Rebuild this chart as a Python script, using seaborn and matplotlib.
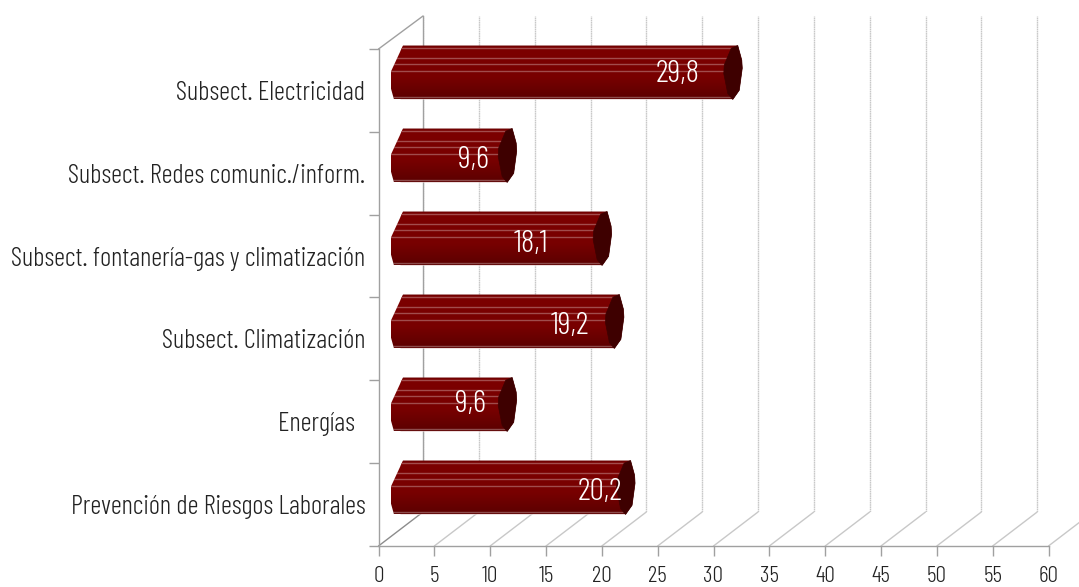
import numpy as np, pandas as pd
import seaborn as sns
import matplotlib
matplotlib.use("Agg")
import matplotlib.pyplot as plt
from matplotlib.patches import ConnectionPatch, Polygon

categorias = ["Subsect. Electricidad", "Subsect. Redes comunic./inform.",
              "Subsect. fontanería-gas y climatización", "Subsect. Climatización",
              "Energías  ", "Prevención de Riesgos Laborales"]
valores = [29.8, 9.6, 18.1, 19.2, 9.6, 20.2]
etiquetas = ["29,8", "9,6", "18,1", "19,2", "9,6", "20,2"]
ticks_x = list(range(0, 65, 5))

sns.set_theme(style="white")
plt.rcParams['font.family'] = ['Barlow Condensed', 'Roboto Condensed', 'Liberation Sans', 'DejaVu Sans']
plt.rcParams['font.weight'] = 300

W, H = 1079, 587
fig = plt.figure(figsize=(W / 100, H / 100), dpi=100)


def caja(x0, y0, x1, y1):
    # pixeles (origen arriba a la izquierda) -> fraccion de figura
    return [x0 / W, 1 - y1 / H, (x1 - x0) / W, (y1 - y0) / H]


px_x = 60 / 670
margen = 2  # hueco a la izquierda del cero para la tapa redondeada

# tres planos: pared del fondo, plano frontal y barras a media profundidad
ax_fondo = fig.add_axes(caja(423, 16, 1093, 512), zorder=0)
ax_frente = fig.add_axes(caja(378.5, 49, 1048.5, 546), zorder=2)
ax_barras = fig.add_axes(caja(400 - margen / px_x, 31, 1070, 529), zorder=3)

for ax in (ax_fondo, ax_frente, ax_barras):
    ax.set_xlim(0, 60)
    ax.patch.set_alpha(0)

ax_fondo.set_ylim(0, 1)
ax_fondo.set_xticks(ticks_x)
ax_fondo.set_yticks([])
ax_fondo.tick_params(labelbottom=False, length=0)
ax_fondo.grid(axis="x", color="#c8c8c8", lw=1, ls=(0, (1.2, 0.4)))
sns.despine(ax=ax_fondo, left=False, bottom=True, top=True, right=True)
ax_fondo.spines["left"].set_color("#a0a0a0")
ax_fondo.spines["left"].set_linewidth(1)

# eje frontal
n_cat = len(categorias)
ax_frente.set_ylim(n_cat - 0.5, -0.5)
ax_frente.set_xticks(ticks_x)
ax_frente.set_xticklabels([str(t) for t in ticks_x], fontsize=17, color="#222222")
ax_frente.set_yticks(range(n_cat))
ax_frente.set_yticklabels(categorias, fontsize=19.4, color="#222222")
ax_frente.set_yticks(np.arange(-0.5, n_cat), minor=True)
ax_frente.tick_params(axis="y", which="major", length=0, pad=9.5)
ax_frente.tick_params(axis="y", which="minor", left=True, length=7, width=1, color="#a0a0a0")
ax_frente.tick_params(axis="x", bottom=True, length=7, width=1, color="#a0a0a0", pad=7.5)
sns.despine(ax=ax_frente)
for lado in ("left", "bottom"):
    ax_frente.spines[lado].set_color("#a0a0a0")
    ax_frente.spines[lado].set_linewidth(1)

# suelo y diagonal superior
for t in ticks_x:
    c = "#8c8c8c" if t == 0 else "#c8c8c8"
    fig.add_artist(ConnectionPatch((t, n_cat - 0.5), (t, 0), "data", "data", axesA=ax_frente, axesB=ax_fondo,
                                   color=c, lw=1, zorder=1))
fig.add_artist(ConnectionPatch((0, 1), (0, 1), "axes fraction", "axes fraction", axesA=ax_frente, axesB=ax_fondo,
                               color="#a0a0a0", lw=1, zorder=1))

# barras
df = pd.DataFrame({"cat": categorias, "valor": valores})
sns.barplot(data=df, y="cat", x="valor", orient="h", color="#780000", saturation=1, width=0.65, ax=ax_barras)
ax_barras.axis("off")

# perfil de las tapas: (dx en pixeles, fraccion de la altura)
tapa_der = [(5, 0), (9, .27), (9.5, .42), (6.5, .83), (0, 1), (-5, .89), (-9, .52), (-8.5, .36), (-1.5, .05)]
lado_izq = [(-6, 1), (-9, .8), (-9, .48), (3, 0)]
vetas = [.05, .24, .34, .47, .96]
cmap = matplotlib.colors.LinearSegmentedColormap.from_list(
    "cil", [(0, "#680000"), (.04, "#7c0000"), (.6, "#780000"), (1, "#5c0000")])
despl_x = [55, 34, 71, 44, 37, 26]
despl_y = [2, 5, 5, 5, 0, 5]

for i, p in enumerate(ax_barras.patches):
    x1 = p.get_width()
    y0, h = p.get_y(), p.get_height()
    punto = lambda base, dx, f: (base + dx * px_x, y0 + f * h)
    perfil = [punto(x1, dx, f) for dx, f in tapa_der[:5]] + [punto(0, dx, f) for dx, f in lado_izq]
    silueta = Polygon(perfil, closed=True, fc="none", ec="none", transform=ax_barras.transData, clip_on=False)
    ax_barras.add_patch(silueta)
    # el rectangulo solo sirve de base, lo recorta la silueta
    p.set_clip_path(silueta)
    g = ax_barras.imshow(np.linspace(0, 1, 64)[:, None], cmap=cmap, aspect="auto", zorder=2,
                         extent=(-margen, x1 + 12 * px_x, y0 + h, y0))
    g.set_clip_path(silueta)
    for f in vetas:
        l, = ax_barras.plot([-margen, x1], [y0 + f * h] * 2, color="#ffffff", alpha=.3, lw=1, zorder=3)
        l.set_clip_path(silueta)
    ax_barras.add_patch(Polygon([punto(x1, dx, f) for dx, f in tapa_der], closed=True,
                                fc="#3e0000", ec="#3e0000", lw=.5, zorder=4))
    ax_barras.annotate(etiquetas[i], (x1, y0 + h / 2), xytext=(-despl_x[i] * .72, -despl_y[i] * .72),
                       textcoords="offset points", ha="center", va="center", color="white",
                       fontsize=23, zorder=5)

ax_barras.set_xlim(-margen, 60)
ax_barras.set_ylim(n_cat - 0.5, -0.5)

fig.savefig("out.png", dpi=100, facecolor="white")
